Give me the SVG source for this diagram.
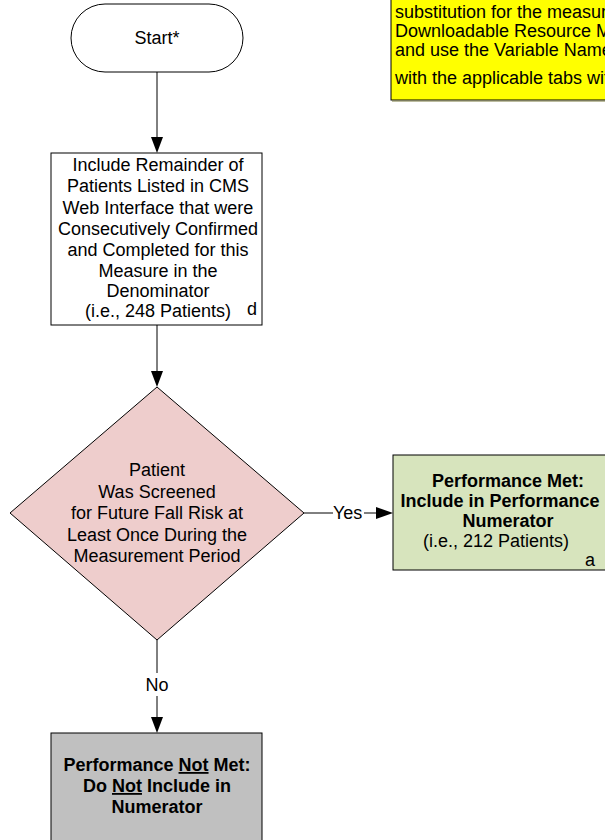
<svg xmlns="http://www.w3.org/2000/svg" width="605" height="840" viewBox="0 0 605 840">
<style>
text{font-family:"Liberation Sans",Arial,sans-serif;font-size:18px;fill:#000}
.c{text-anchor:middle}
.b{font-weight:bold}
.s{stroke:#000;stroke-width:1}
.ln{stroke:#000;stroke-width:1;fill:none}
.ah{fill:#000;stroke:none}
</style>
<rect width="605" height="840" fill="#fff"/>
<g id="note">
<rect x="391" y="-10" width="260" height="110" fill="#ffff00" class="s"/>
<line x1="392" y1="101" x2="605" y2="101" stroke="#7a7a40" stroke-width="1"/>
<text x="395" y="18" font-size="17.8">substitution for the measure's</text>
<text x="395" y="37" font-size="17.8">Downloadable Resource Manual</text>
<text x="395" y="56" font-size="17.8">and use the Variable Names</text>
<text x="395" y="84" font-size="17.8">with the applicable tabs within</text>
</g>
<g id="start">
<rect x="71" y="4" width="172" height="68" rx="34" ry="34" fill="#fff" class="s"/>
<text x="157" y="44" class="c">Start*</text>
</g>
<g id="denominator">
<rect x="51" y="153" width="211" height="172" fill="#fff" class="s"/>
<text class="c" x="158" y="171">Include Remainder of</text>
<text class="c" x="158" y="192">Patients Listed in CMS</text>
<text class="c" x="158" y="213.5">Web Interface that were</text>
<text class="c" x="158" y="235">Consecutively Confirmed</text>
<text class="c" x="158" y="256">and Completed for this</text>
<text class="c" x="158" y="277">Measure in the</text>
<text class="c" x="158" y="297">Denominator</text>
<text class="c" x="158" y="316.5">(i.e., 248 Patients)</text>
<text x="247" y="315" font-size="17">d</text>
</g>
<g id="decision">
<polygon points="157,387 304,513 157,640 10,513" fill="#eecdcc" class="s"/>
<text class="c" x="157" y="476">Patient</text>
<text class="c" x="157" y="497.5">Was Screened</text>
<text class="c" x="157" y="519">for Future Fall Risk at</text>
<text class="c" x="157" y="540.5">Least Once During the</text>
<text class="c" x="157" y="562">Measurement  Period</text>
</g>
<g id="met">
<rect x="393" y="455" width="230" height="115" fill="#d7e4bd" class="s"/>
<text class="c b" x="508" y="487" font-size="18.5">Performance Met:</text>
<text class="c b" x="500" y="507" font-size="18.5">Include in Performance</text>
<text class="c b" x="508" y="527" font-size="18.5">Numerator</text>
<text class="c" x="496" y="547">(i.e., 212 Patients)</text>
<text x="585" y="566" font-size="17">a</text>
</g>
<g id="notmet">
<rect x="51" y="733" width="211" height="120" fill="#c0c0c0" class="s"/>
<text class="c b" x="157" y="771">Performance <tspan text-decoration="underline">Not</tspan> Met:</text>
<text class="c b" x="157" y="792">Do <tspan text-decoration="underline">Not</tspan> Include in</text>
<text class="c b" x="157" y="813">Numerator</text>
</g>
<g id="connectors">
<line class="ln" x1="157" y1="72" x2="157" y2="138"/>
<polygon class="ah" points="151,137 163,137 157,153"/>
<line class="ln" x1="157" y1="325" x2="157" y2="372"/>
<polygon class="ah" points="151,371 163,371 157,387"/>
<line class="ln" x1="304" y1="513" x2="333" y2="513"/>
<text x="333" y="519">Yes</text>
<line class="ln" x1="364" y1="513" x2="377" y2="513"/>
<polygon class="ah" points="376,507 376,519 393,513"/>
<line class="ln" x1="157" y1="640" x2="157" y2="673"/>
<text class="c" x="157" y="691">No</text>
<line class="ln" x1="157" y1="696" x2="157" y2="718"/>
<polygon class="ah" points="151,717 163,717 157,733"/>
</g>
</svg>
